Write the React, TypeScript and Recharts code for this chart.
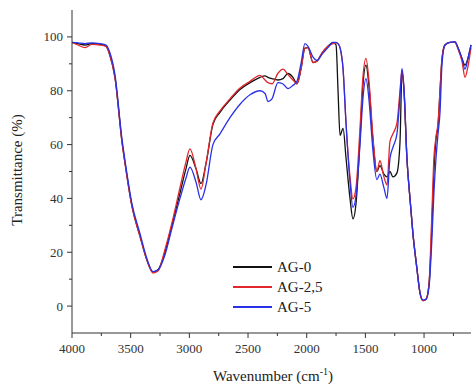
import React from 'react'
import { LineChart, Line, XAxis, YAxis } from 'recharts'

// FTIR spectra, wavenumber in cm-1
const wavenumbers = [
  4000, 3949, 3889, 3830, 3761, 3710, 3676, 3634, 3574, 3548, 3489, 3421, 3361, 3310, 3267, 3208,
  3148, 3080, 3029, 2995, 2943, 2901, 2858, 2799, 2739, 2654, 2568, 2483, 2398, 2355, 2330, 2296,
  2245, 2202, 2160, 2117, 2083, 2049, 2015, 1989, 1946, 1912, 1870, 1819, 1776, 1750, 1733, 1716,
  1690, 1665, 1631, 1606, 1580, 1546, 1521, 1495, 1470, 1436, 1402, 1376, 1342, 1316, 1291, 1265,
  1231, 1205, 1188, 1171, 1146, 1120, 1095, 1061, 1035, 1009, 984, 958, 933, 916, 898, 881,
  864, 847, 822, 779, 736, 711, 677, 651, 626, 600,
]
const ag0 = [
  98, 97.5, 97, 97.5, 97.3, 96.5, 93, 85, 61, 53, 37, 26, 17, 12.7, 13.5, 20,
  30, 42, 51, 56, 51, 45.5, 53, 67.5, 72, 76.5, 80.5, 83, 85, 85.5, 85, 84.5,
  84, 84.5, 86.4, 85, 82.6, 88, 95.8, 96, 90.5, 91, 94, 96.5, 98, 97, 80, 63.4,
  66, 55, 40, 32.4, 38, 62, 82, 89.5, 82, 62, 50, 52.2, 49, 48, 50, 48,
  49.5, 61, 87, 80, 55, 40, 27, 14, 5, 2, 2.5, 8, 30, 50, 62, 67,
  80, 92, 97, 98, 98, 96, 92, 89.5, 92, 97,
]
const ag25 = [
  98, 97, 96, 97.2, 97, 96.5, 93, 85, 61, 53, 37, 26, 17, 12.3, 13, 21,
  31, 44, 53.5, 58.4, 51, 43.5, 53, 68, 72.5, 77, 81, 83.5, 85.7, 84, 83, 82.6,
  86.5, 88, 86, 84, 82.6, 88, 95.8, 96, 90.5, 91, 94, 96.5, 97.5, 97.8, 97.5, 96,
  88, 68, 48, 39.8, 44, 66, 85, 92, 84, 63, 50, 54, 48, 45, 61, 64,
  68, 80, 87.6, 80, 55, 40, 27, 14, 5, 2, 2.5, 8, 35, 55, 63, 68,
  80, 92, 97, 98, 98, 95.5, 91, 85, 89, 96,
]
const ag5 = [
  98, 97.8, 97.5, 97.8, 97.5, 97, 94, 86, 62, 54, 38, 27, 17.5, 12.8, 13.5, 19,
  29, 40, 47.5, 51.6, 46, 39.5, 45, 60, 64, 70, 75, 78.5, 80, 79, 76, 77,
  83, 82.5, 80.8, 82, 83.5, 90, 97.5, 96.5, 92.5, 91.3, 93.5, 96, 98, 98, 97.5, 96,
  88, 68, 46, 36.7, 41, 60, 77, 84.5, 77, 58, 47, 49, 44, 40, 54.7, 59,
  64, 78, 88.2, 81, 55, 40, 27, 14, 5, 2.3, 2.5, 7, 25, 42, 55, 64,
  72, 90, 97, 98, 98.2, 96, 92, 88, 92, 97,
]

const xMajor = [4000, 3500, 3000, 2500, 2000, 1500, 1000]
const xTicks = [4000, 3750, 3500, 3250, 3000, 2750, 2500, 2250, 2000, 1750, 1500, 1250, 1000, 750]
const yMajor = [0, 20, 40, 60, 80, 100]
const yTicks = [0, 10, 20, 30, 40, 50, 60, 70, 80, 90, 100]

const series = [
  { key: 'ag0', name: 'AG-0', color: '#111111' },
  { key: 'ag25', name: 'AG-2,5', color: '#e0282c' },
  { key: 'ag5', name: 'AG-5', color: '#2a30e6' },
]

const data = wavenumbers.map((wn, i) => ({ wn, ag0: ag0[i], ag25: ag25[i], ag5: ag5[i] }))

const FONT = '"Liberation Serif", "DejaVu Serif", serif'
const AXIS = '#333'

const XTick = ({ x, y, payload }: any) => {
  const major = xMajor.includes(payload.value)
  return (
    <g>
      <line x1={x} x2={x} y1={y} y2={y + (major ? 5 : 3)} stroke={AXIS} strokeWidth={1} />
      {major && (
        <text x={x} y={y + 20} textAnchor="middle" fontSize={13} fill={AXIS} fontFamily={FONT}>
          {payload.value}
        </text>
      )}
    </g>
  )
}

const YTick = ({ x, y, payload }: any) => {
  const major = yMajor.includes(payload.value)
  return (
    <g>
      <line x1={x} x2={x - (major ? 5 : 3)} y1={y} y2={y} stroke={AXIS} strokeWidth={1} />
      {major && (
        <text x={x - 9} y={y} dy="0.35em" textAnchor="end" fontSize={13} fill={AXIS} fontFamily={FONT}>
          {payload.value}
        </text>
      )}
    </g>
  )
}

export default function App() {
  return (
    <div style={{ position: 'absolute', left: 0, top: 0, width: 472, height: 387, background: '#fff' }}>
      <LineChart width={472} height={387} data={data} margin={{ top: 10, right: 1, left: 0, bottom: 0 }}>
        <XAxis
          dataKey="wn"
          type="number"
          domain={[600, 4000]}
          reversed
          ticks={xTicks}
          interval={0}
          tick={<XTick />}
          tickLine={false}
          tickSize={0}
          tickMargin={0}
          height={54}
          axisLine={{ stroke: AXIS }}
          label={{
            content: () => (
              <text x={273} y={381} textAnchor="middle" fontSize={15} fill="#222" fontFamily={FONT}>
                Wavenumber (cm
                <tspan dy={-6} fontSize={10}>-1</tspan>
                <tspan dy={6}>)</tspan>
              </text>
            ),
          }}
        />
        <XAxis xAxisId="top" orientation="top" type="number" domain={[600, 4000]} reversed height={0} tick={false} tickLine={false} axisLine={{ stroke: AXIS }} />
        <YAxis
          type="number"
          domain={[-10, 110]}
          ticks={yTicks}
          interval={0}
          tick={<YTick />}
          tickLine={false}
          tickSize={0}
          tickMargin={0}
          width={72}
          axisLine={{ stroke: AXIS }}
          label={{
            content: () => (
              <text x={22} y={170} transform="rotate(-90 22 170)" textAnchor="middle" fontSize={15} fill="#222" fontFamily={FONT}>
                Transmittance (%)
              </text>
            ),
          }}
        />
        <YAxis yAxisId="right" orientation="right" type="number" domain={[-10, 110]} width={0} tick={false} tickLine={false} axisLine={{ stroke: '#999' }} />
        {series.map((s) => (
          <Line
            key={s.key}
            type="monotone"
            dataKey={s.key}
            name={s.name}
            stroke={s.color}
            strokeWidth={1.3}
            dot={false}
            isAnimationActive={false}
          />
        ))}
      </LineChart>
      <div style={{ position: 'absolute', left: 233, top: 257, fontFamily: FONT, fontSize: 15, color: '#222' }}>
        {series.map((s) => (
          <div key={s.key} style={{ display: 'flex', alignItems: 'center', height: 20 }}>
            <span style={{ display: 'inline-block', width: 39, height: 2, background: s.color, marginRight: 5 }} />
            <span>{s.name}</span>
          </div>
        ))}
      </div>
    </div>
  )
}
